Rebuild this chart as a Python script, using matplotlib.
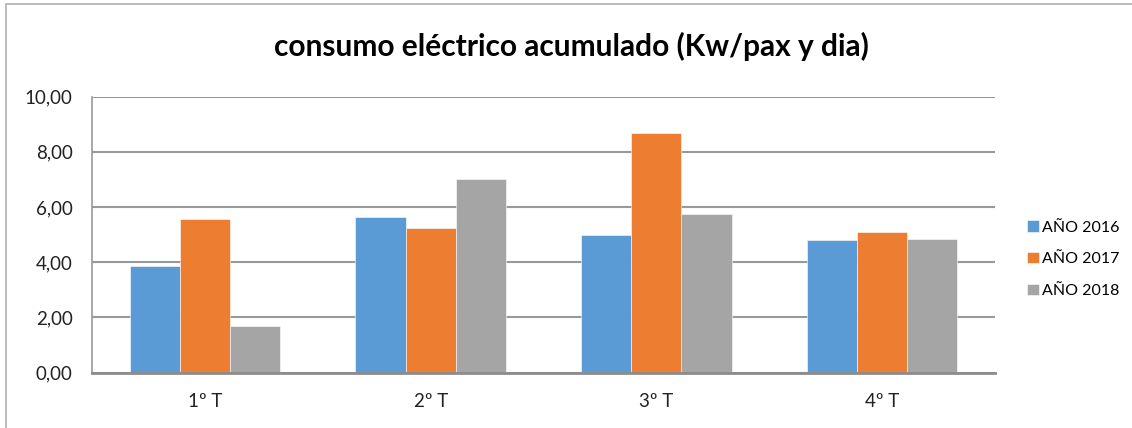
import numpy as np
import matplotlib.pyplot as plt
from matplotlib.patches import Rectangle

# Data
quarters = ["1º T", "2º T", "3º T", "4º T"]
series_names = ["AÑO 2016", "AÑO 2017", "AÑO 2018"]
anio_2016 = [3.87, 5.65, 4.99, 4.80]
anio_2017 = [5.56, 5.22, 8.67, 5.08]
anio_2018 = [1.70, 7.01, 5.75, 4.85]
colors = ["#5B9BD5", "#ED7D31", "#A5A5A5"]

plt.rcParams['font.family'] = ['Lato', 'DejaVu Sans']

fig = plt.figure(figsize=(11.32, 4.28), dpi=100)
ax = fig.add_axes([92 / 1132, 1 - 372.5 / 428, (995 - 92) / 1132, (372.5 - 96.5) / 428])

x = np.arange(len(quarters))
w = 1 / 4.5
for i, (vals, name) in enumerate(zip([anio_2016, anio_2017, anio_2018], series_names)):
    ax.bar(x + (i - 1) * w, vals, width=w, color=colors[i], label=name,
           edgecolor="white", linewidth=0.4, zorder=3)

ax.set_xlim(-0.5, len(quarters) - 0.5)
ax.set_ylim(0, 10)
ax.set_yticks(np.arange(0, 10.1, 2))
ax.set_yticklabels([f"{v:.2f}".replace(".", ",") for v in np.arange(0, 10.1, 2)], fontsize=13.5)
ax.set_xticks(x)
ax.set_xticklabels(quarters, fontsize=13.5)
ax.tick_params(length=0, pad=14, colors="#222222")
ax.tick_params(axis="x", pad=15)
ax.yaxis.grid(True, color="#999999", linewidth=1.5, zorder=0)

for s in ["top", "right"]:
    ax.spines[s].set_visible(False)
ax.spines["left"].set_color("#999999")
ax.spines["left"].set_linewidth(1.2)
ax.spines["bottom"].set_color("#8c8c8c")
ax.spines["bottom"].set_linewidth(2)
ax.spines["bottom"].set_zorder(4)

fig.text(571 / 1132, 1 - 46 / 428, "consumo eléctrico acumulado (Kw/pax y dia)",
         ha="center", va="center", fontsize=21.5, fontweight="bold", color="black")

ax.legend(loc="center left", bbox_to_anchor=(1.02, 0.41), frameon=False, fontsize=11.5,
          handlelength=0.7, handleheight=0.7, handletextpad=0.2, labelspacing=1.1)

# chart border
fig.patches.append(Rectangle((6 / 1132, -0.1), 1.2, 1 - 4 / 428 + 0.1,
                             transform=fig.transFigure, fill=False,
                             edgecolor="#b0b0b0", linewidth=1.2))

fig.savefig("out.png", dpi=100)
